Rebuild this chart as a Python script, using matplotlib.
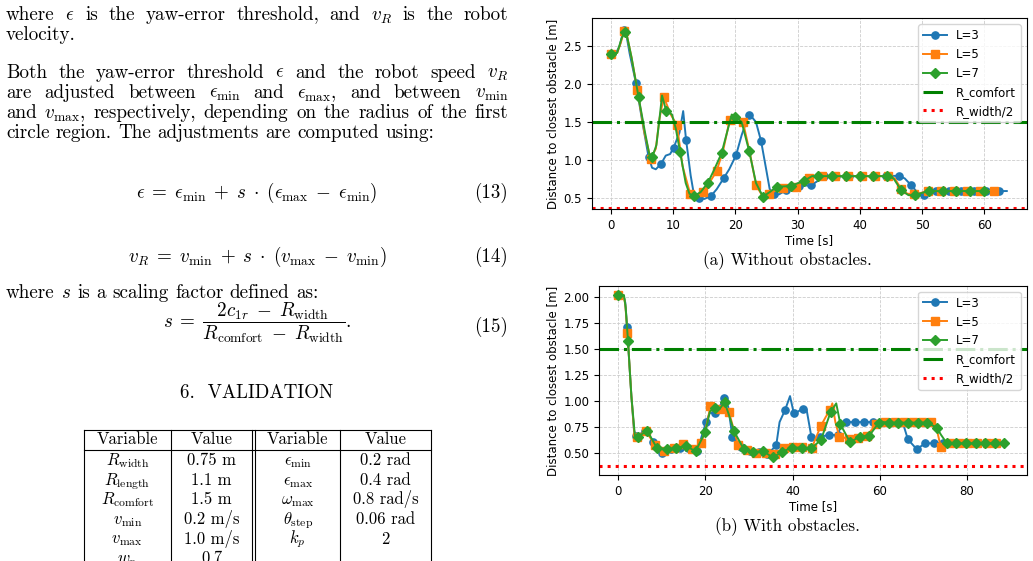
import numpy as np
import matplotlib
matplotlib.use("Agg")
import matplotlib.pyplot as plt
from matplotlib.lines import Line2D

plt.rcParams['mathtext.fontset'] = 'cm'
SERIF = 'cmr10'

# ---------------- data: top chart (without obstacles) ----------------
top_t3_mk = [0.0, 2.01, 4.02, 6.03, 8.04, 10.05, 12.06, 14.07, 16.08, 18.09, 20.10, 22.11, 24.12, 26.13, 28.14, 30.15,
             32.16, 34.17, 36.18, 38.19, 40.20, 42.21, 44.22, 46.23, 48.24, 50.25, 52.26, 54.27, 56.28, 58.29, 60.30, 62.31]
top_d3_mk = [2.40, 2.71, 2.01, 1.045, 0.95, 1.16, 1.27, 0.50, 0.53, 0.76, 1.066, 1.59, 1.25, 0.56, 0.605, 0.66,
             0.67, 0.79, 0.79, 0.79, 0.79, 0.79, 0.79, 0.795, 0.67, 0.54, 0.594, 0.594, 0.594, 0.594, 0.594, 0.594]
top_t3_ln = [0.8, 1.4, 2.4, 3.0, 5.0, 6.6, 7.2, 8.8, 9.5, 11.0, 11.6, 12.8, 13.3, 15.0, 17.0, 19.0, 21.0, 22.6, 23.3,
             25.0, 25.5, 27.0, 29.1, 33.1, 47.2, 49.3, 51.3, 63.6]
top_d3_ln = [2.41, 2.50, 2.68, 2.40, 1.52, 0.90, 0.88, 1.06, 1.08, 1.36, 1.645, 0.80, 0.56, 0.49, 0.62, 0.88, 1.33, 1.57,
             1.50, 0.85, 0.62, 0.55, 0.63, 0.72, 0.76, 0.57, 0.58, 0.594]

top_t5_mk = [0.0, 2.12, 4.24, 6.36, 8.48, 10.60, 12.72, 14.84, 16.96, 19.08, 21.20, 23.32, 25.44, 27.56, 29.68, 31.80,
             33.92, 36.04, 38.16, 40.28, 42.40, 44.52, 46.64, 48.76, 50.88, 53.00, 55.12, 57.24, 59.36, 61.48]
top_d5_mk = [2.40, 2.70, 1.92, 1.02, 1.83, 1.46, 0.56, 0.585, 0.855, 1.53, 1.505, 0.67, 0.56, 0.635, 0.65, 0.77,
             0.79, 0.79, 0.79, 0.79, 0.79, 0.79, 0.62, 0.55, 0.594, 0.594, 0.594, 0.594, 0.594, 0.594]
top_t5_ln = [1.0, 1.6, 2.5, 3.3, 5.4, 7.2, 7.8, 9.6, 11.5, 13.4, 15.8, 18.0, 19.7, 20.3, 22.3, 24.4, 26.5, 45.6, 47.6,
             49.8, 62.0]
top_d5_ln = [2.41, 2.55, 2.66, 2.35, 1.35, 1.15, 1.55, 1.60, 0.92, 0.53, 0.70, 1.12, 1.59, 1.57, 1.10, 0.52, 0.60, 0.76,
             0.56, 0.57, 0.594]

top_t7_mk = [0.0, 2.22, 4.44, 6.66, 8.88, 11.10, 13.32, 15.54, 17.76, 19.98, 22.20, 24.42, 26.64, 28.86, 31.08, 33.30,
             35.52, 37.74, 39.96, 42.18, 44.40, 46.62, 48.84, 51.06, 53.28, 55.50, 57.72, 59.94]
top_d7_mk = [2.40, 2.68, 1.825, 1.045, 1.645, 1.11, 0.526, 0.70, 1.09, 1.57, 1.12, 0.52, 0.65, 0.66, 0.73, 0.79,
             0.79, 0.79, 0.79, 0.79, 0.79, 0.605, 0.54, 0.594, 0.594, 0.594, 0.594, 0.594]
top_t7_ln = [1.0, 1.7, 2.6, 3.3, 5.5, 6.2, 7.3, 7.8, 8.2, 9.8, 10.4, 12.0, 12.6, 14.4, 16.5, 18.6, 19.4, 21.0, 23.3,
             25.5, 32.3, 45.4, 47.8, 50.0, 60.4]
top_d7_ln = [2.41, 2.60, 2.62, 2.35, 1.35, 1.06, 1.20, 1.55, 1.85, 1.60, 1.42, 0.70, 0.56, 0.58, 0.86, 1.35, 1.60, 1.50,
             0.70, 0.58, 0.79, 0.76, 0.54, 0.57, 0.594]

# ---------------- data: bottom chart (with obstacles) ----------------
bot_t3_mk = [0.0, 2.01, 4.03, 6.04, 8.05, 10.07, 12.08, 14.09, 16.10, 18.12, 20.13, 22.14, 24.16, 26.17, 28.18, 30.20,
             32.21, 34.22, 36.23, 38.25, 40.26, 42.27, 44.29, 46.30, 48.31, 50.33, 52.34, 54.35, 56.36, 58.38, 60.39,
             62.40, 64.42, 66.43, 68.44, 70.46, 72.47, 74.48, 76.49, 78.51]
bot_d3_mk = [2.02, 1.717, 0.665, 0.71, 0.61, 0.50, 0.545, 0.55, 0.548, 0.525, 0.80, 0.885, 1.03, 0.66, 0.56, 0.52,
             0.51, 0.49, 0.575, 0.915, 0.885, 0.93, 0.66, 0.66, 0.676, 0.676, 0.80, 0.80, 0.80, 0.80, 0.80,
             0.80, 0.80, 0.635, 0.54, 0.596, 0.596, 0.596, 0.596, 0.596]
bot_t3_ln = [1.2, 1.6, 3.0, 3.6, 7.0, 21.0, 23.3, 25.2, 37.0, 39.4, 41.2, 43.2, 45.3, 51.3, 65.3, 80.3]
bot_d3_ln = [2.02, 1.95, 1.05, 0.72, 0.68, 0.89, 0.95, 0.95, 0.80, 1.05, 0.90, 0.92, 0.63, 0.79, 0.79, 0.596]

bot_t5_mk = [0.0, 2.11, 4.23, 6.34, 8.45, 10.57, 12.68, 14.79, 16.90, 19.02, 21.13, 23.24, 25.36, 27.47, 29.58, 31.70,
             33.81, 35.92, 38.03, 40.15, 42.26, 44.37, 46.49, 48.60, 50.71, 52.83, 54.94, 57.05, 59.16, 61.28, 63.39,
             65.50, 67.62, 69.73, 71.84, 73.96, 76.07, 78.18, 80.30, 82.41, 84.52, 86.63]
bot_d5_mk = [2.02, 1.654, 0.66, 0.71, 0.58, 0.52, 0.55, 0.587, 0.54, 0.596, 0.95, 0.93, 0.90, 0.58, 0.53, 0.50,
             0.505, 0.49, 0.555, 0.56, 0.56, 0.55, 0.765, 0.915, 0.66, 0.64, 0.65, 0.67, 0.78, 0.80, 0.80,
             0.80, 0.80, 0.80, 0.80, 0.565, 0.596, 0.596, 0.596, 0.596, 0.596, 0.596]
bot_t5_ln = [1.2, 1.6, 3.0, 3.7, 20.3, 47.6, 49.1, 49.8, 72.8, 74.8, 87.5]
bot_d5_ln = [2.02, 1.93, 1.05, 0.68, 0.78, 0.85, 0.98, 0.80, 0.78, 0.58, 0.596]

bot_t7_mk = [0.0, 2.22, 4.43, 6.65, 8.86, 11.08, 13.29, 15.51, 17.72, 19.94, 22.15, 24.37, 26.58, 28.80, 31.01, 33.23,
             35.44, 37.66, 39.87, 42.09, 44.30, 46.52, 48.73, 50.95, 53.16, 55.38, 57.59, 59.81, 62.02, 64.24, 66.45,
             68.67, 70.88, 73.10, 75.31, 77.53, 79.74, 81.96, 84.17, 86.39, 88.60]
bot_d7_mk = [2.02, 1.58, 0.66, 0.715, 0.55, 0.54, 0.55, 0.57, 0.52, 0.70, 0.94, 0.99, 0.71, 0.54, 0.51, 0.52,
             0.46, 0.515, 0.555, 0.555, 0.548, 0.63, 0.90, 0.78, 0.606, 0.66, 0.67, 0.795, 0.795, 0.795, 0.795,
             0.795, 0.795, 0.746, 0.60, 0.596, 0.596, 0.596, 0.596, 0.596, 0.596]
bot_t7_ln = [1.3, 1.7, 3.0, 3.8, 21.0, 23.3, 25.3, 50.0, 60.9, 74.0]
bot_d7_ln = [2.02, 1.90, 1.05, 0.67, 0.90, 0.93, 0.88, 0.98, 0.80, 0.68]

R_comfort = 1.5
R_half_width = 0.375
series_labels = ['L=3', 'L=5', 'L=7']

# ---------------- text content ----------------
para1 = [r"where $\epsilon$ is the yaw-error threshold, and $v_R$ is the robot", "velocity."]
para2 = [r"Both the yaw-error threshold $\epsilon$ and the robot speed $v_R$",
         r"are adjusted between $\epsilon_{\min}$ and $\epsilon_{\max}$, and between $v_{\min}$",
         r"and $v_{\max}$, respectively, depending on the radius of the first",
         "circle region. The adjustments are computed using:"]
eq13 = r"$\epsilon\;=\;\epsilon_{\min}\;+\;s\;\cdot\;(\epsilon_{\max}\;-\;\epsilon_{\min})$"
eq14 = r"$v_R\;=\;v_{\min}\;+\;s\;\cdot\;(v_{\max}\;-\;v_{\min})$"
eq15 = (r"$s\;=\;\dfrac{2c_{1r}\;-\;R_{\mathrm{width}}}"
        r"{R_{\mathrm{comfort}}\;-\;R_{\mathrm{width}}}.$")
where_s = r"where $s$ is a scaling factor defined as:"
section = "6.  VALIDATION"
tab_header = ["Variable", "Value", "Variable", "Value"]
tab_var_l = [r"$R_{\mathrm{width}}$", r"$R_{\mathrm{length}}$", r"$R_{\mathrm{comfort}}$", r"$v_{\min}$",
             r"$v_{\max}$", r"$w_p$"]
tab_val_l = ["0.75 m", "1.1 m", "1.5 m", "0.2 m/s", "1.0 m/s", "0.7"]
tab_var_r = [r"$\epsilon_{\min}$", r"$\epsilon_{\max}$", r"$\omega_{\max}$", r"$\theta_{\mathrm{step}}$", r"$k_p$", ""]
tab_val_r = ["0.2 rad", "0.4 rad", "0.8 rad/s", "0.06 rad", "2", ""]
caption_a = "(a) Without obstacles."
caption_b = "(b) With obstacles."

# ---------------- figure ----------------
W, H = 1033, 561
fig = plt.figure(figsize=(W / 100, H / 100), dpi=100)
renderer = fig.canvas.get_renderer()


def fx(x):
    return x / W


def fy(y):
    return 1 - y / H


def width_of(txt, size):
    t = fig.text(0, 0, txt, fontsize=size, family=SERIF)
    w = t.get_window_extent(renderer).width
    t.remove()
    return w


# body font size fitted to the width of a reference line
BODY = 12.0 * (312.0 / width_of(where_s, 12.0))
TAB = 12.0 * (61.5 / width_of("Variable", 12.0))


def text_line(s, y, x0=6, x1=508, justify=True, size=None):
    size = size or BODY
    words = s.split(" ")
    arts = [fig.text(0, fy(y), w, fontsize=size, family=SERIF, va='baseline', ha='left') for w in words]
    ws = [a.get_window_extent(renderer).width for a in arts]
    if justify and len(words) > 1:
        gap = (x1 - x0 - sum(ws)) / (len(words) - 1)
    else:
        gap = width_of("a a", size) - width_of("aa", size)
    x = x0
    for a, w in zip(arts, ws):
        a.set_x(fx(x))
        x += w + gap


text_line(para1[0], 20.5)
text_line(para1[1], 40.5, justify=False)
for i, s in enumerate(para2):
    text_line(s, 77.5 + i * 20.3, justify=(i < len(para2) - 1))

fig.text(fx(257), fy(198), eq13, fontsize=BODY, family=SERIF, ha='center', va='baseline')
fig.text(fx(508), fy(198), "(13)", fontsize=BODY, family=SERIF, ha='right', va='baseline')
fig.text(fx(257), fy(262), eq14, fontsize=BODY, family=SERIF, ha='center', va='baseline')
fig.text(fx(508), fy(262), "(14)", fontsize=BODY, family=SERIF, ha='right', va='baseline')
text_line(where_s, 298.5, justify=False)
fig.text(fx(257), fy(323), eq15, fontsize=BODY, family=SERIF, ha='center', va='center')
fig.text(fx(508), fy(332), "(15)", fontsize=BODY, family=SERIF, ha='right', va='baseline')
fig.text(fx(257), fy(398), section, fontsize=BODY, family=SERIF, ha='center', va='baseline')

# table
col_x = [84, 170.7, 252.3, 255.3, 340, 431]
col_c = [127.3, 211.5, 297.7, 385.5]
tab_top, tab_head = 430, 450
for x in col_x:
    fig.add_artist(Line2D([fx(x), fx(x)], [fy(tab_top), fy(H + 2)], color='black', lw=0.8,
                          transform=fig.transFigure))
for y in (tab_top, tab_head):
    fig.add_artist(Line2D([fx(col_x[0]), fx(col_x[-1])], [fy(y), fy(y)], color='black', lw=0.8,
                          transform=fig.transFigure))
for c, h in zip(col_c, tab_header):
    fig.text(fx(c), fy(444), h, fontsize=TAB, family=SERIF, ha='center', va='baseline')
row_y = [465, 485, 504, 524, 543.5, 563]
for i, y in enumerate(row_y):
    for c, txt in zip(col_c, [tab_var_l[i], tab_val_l[i], tab_var_r[i], tab_val_r[i]]):
        if txt:
            fig.text(fx(c), fy(y), txt, fontsize=TAB, family=SERIF, ha='center', va='baseline')

# ---------------- charts ----------------
PLOT_FS = 8.5


def draw_series(ax, t_mk, d_mk, t_ln, d_ln, color, marker, label):
    t = np.concatenate([t_mk, t_ln])
    d = np.concatenate([d_mk, d_ln])
    order = np.argsort(t, kind='stable')
    rank = np.empty_like(order)
    rank[order] = np.arange(len(order))
    idx = sorted(int(r) for r in rank[:len(t_mk)])
    ax.plot(t[order], d[order], color=color, marker=marker, markevery=idx, ms=5.2, lw=1.4, label=label)


def style_axes(ax):
    ax.axhline(R_comfort, color='green', ls='-.', lw=2.2, label='R_comfort')
    ax.axhline(R_half_width, color='red', ls=':', lw=2.2, label='R_width/2')
    ax.grid(True, ls='--', color='#cccccc', lw=0.6)
    ax.set_axisbelow(True)
    ax.tick_params(labelsize=PLOT_FS)
    ax.set_xlabel("Time [s]", fontsize=PLOT_FS, labelpad=2)
    ax.set_ylabel("Distance to closest obstacle [m]", fontsize=PLOT_FS, labelpad=3)
    ax.legend(loc='upper right', fontsize=PLOT_FS)


ax1 = fig.add_axes([fx(591.7), fy(209), (1026.7 - 591.7) / W, (209 - 18.3) / H])
draw_series(ax1, top_t3_mk, top_d3_mk, top_t3_ln, top_d3_ln, 'C0', 'o', series_labels[0])
draw_series(ax1, top_t5_mk, top_d5_mk, top_t5_ln, top_d5_ln, 'C1', 's', series_labels[1])
draw_series(ax1, top_t7_mk, top_d7_mk, top_t7_ln, top_d7_ln, 'C2', 'D', series_labels[2])
style_axes(ax1)
ax1.set_xlim(-3.1, 66.8)
ax1.set_ylim(0.358, 2.864)
ax1.set_xticks([0, 10, 20, 30, 40, 50, 60])
ax1.set_yticks([0.5, 1.0, 1.5, 2.0, 2.5])

ax2 = fig.add_axes([fx(599.3), fy(475), (1026.7 - 599.3) / W, (475 - 286) / H])
draw_series(ax2, bot_t3_mk, bot_d3_mk, bot_t3_ln, bot_d3_ln, 'C0', 'o', series_labels[0])
draw_series(ax2, bot_t5_mk, bot_d5_mk, bot_t5_ln, bot_d5_ln, 'C1', 's', series_labels[1])
draw_series(ax2, bot_t7_mk, bot_d7_mk, bot_t7_ln, bot_d7_ln, 'C2', 'D', series_labels[2])
style_axes(ax2)
ax2.set_xlim(-4.36, 93.7)
ax2.set_ylim(0.291, 2.109)
ax2.set_xticks([0, 20, 40, 60, 80])
ax2.set_yticks([0.5, 0.75, 1.0, 1.25, 1.5, 1.75, 2.0])

fig.text(fx(787), fy(265), caption_a, fontsize=BODY * 0.9, family=SERIF, ha='center', va='baseline')
fig.text(fx(787), fy(531), caption_b, fontsize=BODY * 0.9, family=SERIF, ha='center', va='baseline')

fig.savefig("out.png", dpi=100)
